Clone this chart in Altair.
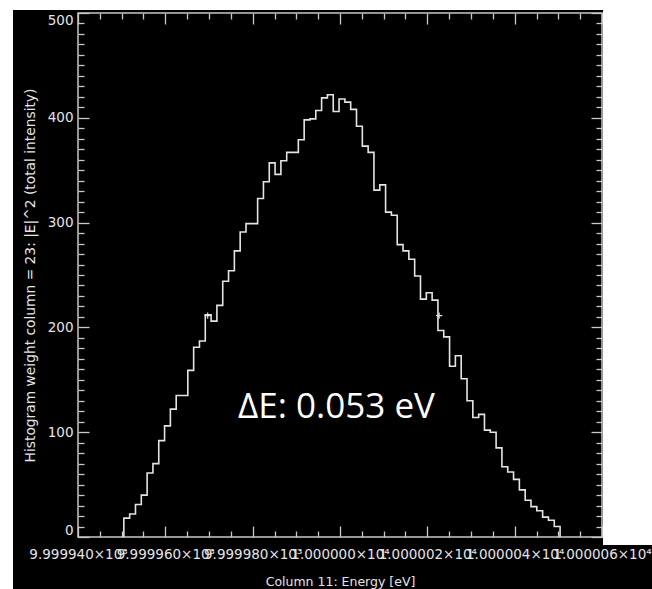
import altair as alt

# ---- data ------------------------------------------------------------------
# Weighted histogram of the energy column: 75 equal-width bins
bin_start = 9999.9505      # eV, lower edge of the first bin
bin_width = 0.001332       # eV
counts = [18, 22, 31, 40, 61, 70, 92, 106, 122, 135, 135, 159, 181, 187, 212, 206, 221, 244,
          254, 273, 291, 299, 299, 323, 339, 357, 346, 359, 367, 367, 379, 398, 399, 407, 419, 422,
          406, 418, 415, 408, 392, 373, 367, 331, 336, 310, 307, 279, 273, 265, 249, 227, 233, 226,
          197, 191, 163, 173, 151, 130, 114, 117, 102, 100, 85, 67, 62, 55, 45, 35, 29, 25, 19, 16, 10]

# half-maximum markers and the width between them
half_max = 211.25
fwhm_left = 9999.9697
delta_e = 0.053
fwhm_edges = [fwhm_left, round(fwhm_left + delta_e, 4)]

# annotation anchor (eV, weight)
note_energy = 9999.9992
note_weight = 113.6

# axis ticks
energy_ticks = [round(9999.940 + 0.005 * k, 3) for k in range(25)]
intensity_ticks = list(range(0, 501, 10))
x_domain = [9999.94, 10000.06]
y_domain = [0, 500]

# ---- tables ----------------------------------------------------------------
edges = [bin_start + i * bin_width for i in range(len(counts) + 1)]
steps = [{"i": 0, "energy": edges[0], "weight": 0}]
steps += [{"i": k + 1, "energy": edges[k], "weight": c} for k, c in enumerate(counts)]
steps += [{"i": len(counts) + 1, "energy": edges[-1], "weight": 0}]

markers = [{"energy": e, "weight": half_max} for e in fwhm_edges]
note = [{"energy": note_energy, "weight": note_weight, "text": f"ΔE: {delta_e} eV"}]

# ---- styling ---------------------------------------------------------------
FG = "#e4e4e4"
FRAME = "#c8c8c8"
MAJ_X = "abs(datum.value * 50 - round(datum.value * 50)) < 1e-4"
MAJ_Y = "datum.value % 100 === 0"
tick_x = alt.ExprRef(expr=f"({MAJ_X}) ? -11 : -6")
tick_y = alt.ExprRef(expr=f"({MAJ_Y}) ? -11 : -6")

x_label = (f"({MAJ_X}) ? (datum.value < 10000 ? format(datum.value / 1000, '.6f') + '×10³' "
           f": format(datum.value / 10000, '.6f') + '×10⁴') : ''")

x_scale = alt.Scale(domain=x_domain, nice=False, zero=False)
y_scale = alt.Scale(domain=y_domain, nice=False, zero=False)

x_bottom = alt.Axis(orient="bottom", values=energy_ticks, tickSize=tick_x,
                    labelExpr=x_label, labelPadding=21.5, labelFlush=False,
                    labelOverlap=False, labelBound=False,
                    title="Column 11: Energy [eV]", titleX=262, titleY=44,
                    titleAlign="center", titleBaseline="middle", titleFontSize=12.5)
y_left = alt.Axis(orient="left", values=intensity_ticks, tickSize=tick_y,
                  labelExpr=f"({MAJ_Y}) ? datum.label : ''", labelPadding=16,
                  labelFlush=True, labelOverlap=False,
                  title="Histogram weight column = 23: |E|^2 (total intensity)",
                  titleX=-48, titleY=262, titleAngle=270,
                  titleAlign="center", titleBaseline="middle", titleFontSize=13.8)
x_top = alt.Axis(orient="top", values=energy_ticks, tickSize=tick_x,
                 labels=False, title=None)
y_right = alt.Axis(orient="right", values=intensity_ticks, tickSize=tick_y,
                   labels=False, title=None)

# ---- layers ----------------------------------------------------------------
def strip(x, x2, y, y2):
    return alt.Chart(alt.Data(values=[{}])).mark_rect(color="white").encode(
        x=alt.value(x), x2=alt.value(x2), y=alt.value(y), y2=alt.value(y2))

margins = [
    strip(-78, 574, -13, -3),     # top
    strip(-78, -65, -13, 576),    # left
    strip(525, 574, -13, 532),    # right
]

hist = alt.Chart(alt.Data(values=steps)).mark_line(
    interpolate="step-after", color=FG, strokeWidth=1.6
).encode(
    x=alt.X("energy:Q", scale=x_scale, axis=x_bottom),
    y=alt.Y("weight:Q", scale=y_scale, axis=y_left),
    order="i:Q",
)

half = alt.Chart(alt.Data(values=markers)).mark_point(
    shape="M-1,0L1,0M0,-1L0,1", size=40, filled=False, stroke=FG, strokeWidth=1.2, opacity=1
).encode(
    x=alt.X("energy:Q", scale=x_scale, axis=x_top),
    y=alt.Y("weight:Q", scale=y_scale, axis=y_right),
)

label = alt.Chart(alt.Data(values=note)).mark_text(
    font="Open Sans", fontSize=35, color="white", align="center", baseline="alphabetic"
).encode(
    x=alt.X("energy:Q", scale=x_scale, axis=None),
    y=alt.Y("weight:Q", scale=y_scale, axis=None),
    text="text:N",
)

chart = alt.layer(*margins, hist, half, label).resolve_axis(
    x="independent", y="independent"
).properties(
    width=524, height=524,
    padding={"left": 78, "top": 13, "right": 50, "bottom": 52},
    autosize=alt.AutoSizeParams(type="none"),
    background="black",
).configure_view(
    stroke=FRAME, strokeWidth=1.5
).configure_axis(
    grid=False, domain=False,
    labelFont="DejaVu Sans", labelFontSize=13.5, labelColor=FG,
    titleFont="DejaVu Sans", titleFontSize=12, titleColor=FG, titleFontWeight="normal",
    tickColor=FRAME, tickWidth=1.3,
)

chart.save("out.html", embed_options={"renderer": "svg", "actions": False})
